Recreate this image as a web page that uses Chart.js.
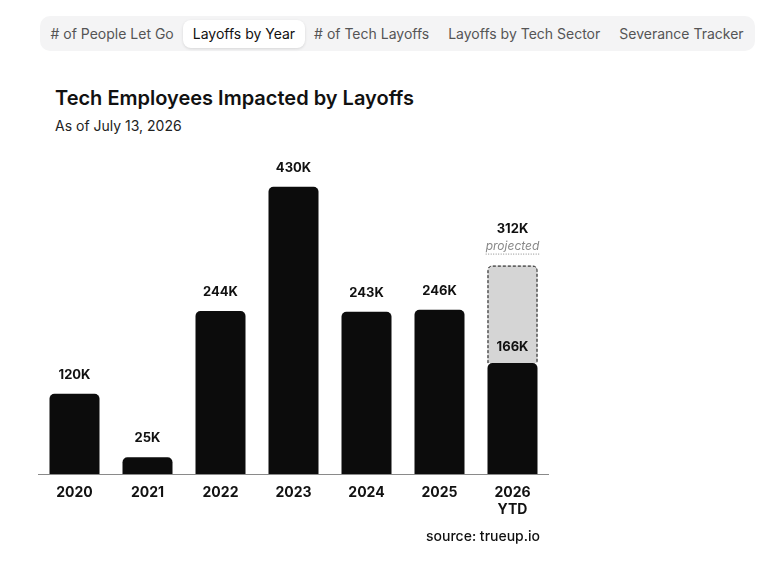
<!DOCTYPE html>
<html>
<head>
<meta charset="utf-8">
<script src="https://cdn.jsdelivr.net/npm/chart.js@4"></script>
<style>
  body { margin: 0; background: #fff; font-family: Inter, 'Noto Sans', sans-serif; color: #111; }
  .tabs {
    position: absolute; left: 40px; top: 16px; width: 715px; height: 35px;
    background: #f4f4f5; border-radius: 10px; box-sizing: border-box;
    display: flex; align-items: center; padding-left: 1px;
  }
  .tab { font-size: 14px; color: #555; padding: 6px 9.5px; line-height: 16px; white-space: nowrap; }
  .tab.active { background: #fff; color: #111; border-radius: 8px; box-shadow: 0 1px 3px rgba(0,0,0,0.12); }
  h1 { position: absolute; left: 55px; top: 85px; margin: 0; font-size: 20px; font-weight: 600; line-height: 26px; }
  .sub { position: absolute; left: 55px; top: 117px; font-size: 14px; line-height: 18px; color: #222; }
  .wrap { position: absolute; left: 38px; top: 140px; width: 511px; height: 394px; }
  .source { position: absolute; left: 300px; width: 240px; text-align: right; top: 527px; font-size: 14px; font-weight: 500; line-height: 18px; }
</style>
</head>
<body>
<div class="tabs">
  <div class="tab"># of People Let Go</div>
  <div class="tab active">Layoffs by Year</div>
  <div class="tab"># of Tech Layoffs</div>
  <div class="tab">Layoffs by Tech Sector</div>
  <div class="tab">Severance Tracker</div>
</div>
<h1>Tech Employees Impacted by Layoffs</h1>
<div class="sub">As of July 13, 2026</div>
<div class="wrap"><canvas id="chart"></canvas></div>
<div class="source">source: trueup.io</div>
<script>
// values in thousands of employees
const years = ['2020', '2021', '2022', '2023', '2024', '2025', ['2026', 'YTD']]
const impacted = [120, 25, 244, 430, 243, 246, 166]
const projectedTotal = [null, null, null, null, null, null, 312]
const remainder = projectedTotal.map((v, i) => (v == null ? null : v - impacted[i]))

const barLabels = {
	id: 'barLabels',
	afterDatasetsDraw(chart) {
		const ctx = chart.ctx
		const black = chart.getDatasetMeta(0).data
		const proj = chart.getDatasetMeta(1).data
		ctx.save()
		ctx.textAlign = 'center'
		ctx.textBaseline = 'middle'

		// dashed outline round the projected part
		proj.forEach((el, i) => {
			if (remainder[i] == null) return
			const l = el.x - el.width / 2, r = el.x + el.width / 2, t = el.y, b = el.base, rad = 5
			ctx.beginPath()
			ctx.moveTo(l + 0.5, b)
			ctx.lineTo(l + 0.5, t + rad)
			ctx.quadraticCurveTo(l + 0.5, t + 0.5, l + rad, t + 0.5)
			ctx.lineTo(r - rad, t + 0.5)
			ctx.quadraticCurveTo(r - 0.5, t + 0.5, r - 0.5, t + rad)
			ctx.lineTo(r - 0.5, b)
			ctx.setLineDash([3, 2])
			ctx.strokeStyle = '#111'
			ctx.lineWidth = 1
			ctx.stroke()
			ctx.setLineDash([])

			ctx.fillStyle = '#111'
			ctx.font = '700 13px Inter'
			ctx.fillText(projectedTotal[i] + 'K', el.x, el.y - 36)
			ctx.font = 'italic 12px Inter'
			ctx.fillStyle = '#888'
			ctx.fillText('projected', el.x, el.y - 19)
			const w = ctx.measureText('projected').width
			ctx.beginPath()
			ctx.setLineDash([1, 1.5])
			ctx.moveTo(el.x - w / 2, el.y - 11.5)
			ctx.lineTo(el.x + w / 2, el.y - 11.5)
			ctx.strokeStyle = '#888'
			ctx.stroke()
			ctx.setLineDash([])
		})

		ctx.font = '700 13px Inter'
		ctx.fillStyle = '#111'
		black.forEach((el, i) => {
			const off = remainder[i] == null ? 19 : 16
			ctx.fillText(impacted[i] + 'K', el.x, el.y - off)
		})
		ctx.restore()
	},
}

new Chart(document.getElementById('chart'), {
	type: 'bar',
	data: {
		labels: years,
		datasets: [
			{
				label: 'Employees impacted',
				data: impacted,
				backgroundColor: '#0c0c0c',
				borderRadius: { topLeft: 5, topRight: 5, bottomLeft: 0, bottomRight: 0 },
				borderSkipped: 'bottom',
				barPercentage: 1,
				categoryPercentage: 0.685,
			},
			{
				label: 'Projected',
				data: remainder,
				backgroundColor: '#d5d5d5',
				borderRadius: { topLeft: 5, topRight: 5, bottomLeft: 0, bottomRight: 0 },
				borderSkipped: 'bottom',
				barPercentage: 1,
				categoryPercentage: 0.685,
			},
		],
	},
	options: {
		responsive: true,
		maintainAspectRatio: false,
		animation: false,
		layout: { padding: 0 },
		plugins: { legend: { display: false }, tooltip: { enabled: false } },
		scales: {
			x: {
				stacked: true,
				grid: { display: false, drawTicks: false },
				border: { display: true, color: '#8a8a8a', width: 1 },
				ticks: { color: '#111', font: { family: 'Inter', size: 14, weight: '700', lineHeight: 1.25 }, padding: 10, maxRotation: 0 },
				afterFit: (scale) => { scale.height = 60 },
			},
			y: {
				stacked: true,
				display: false,
				min: 0,
				max: 500,
			},
		},
	},
	plugins: [barLabels],
})
</script>
</body>
</html>
